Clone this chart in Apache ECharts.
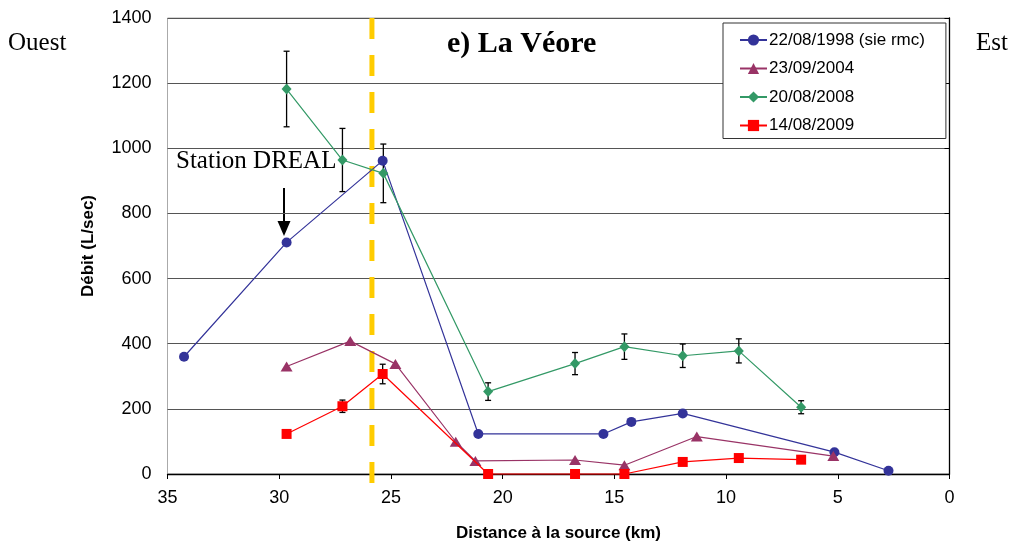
<!DOCTYPE html>
<html>
<head>
<meta charset="utf-8">
<script src="https://cdn.jsdelivr.net/npm/echarts@6/dist/echarts.min.js"></script>
<style>
  html, body { margin: 0; padding: 0; background: #fff; }
  #main { width: 1016px; height: 548px; }
</style>
</head>
<body>
<div id="main"></div>
<script>
// distance a la source (km) / debit (L/sec)
var names = ['22/08/1998 (sie rmc)', '23/09/2004', '20/08/2008', '14/08/2009'];

var x1998 = [34.26, 29.67, 25.37, 21.09, 15.49, 14.24, 11.94, 5.15, 2.73];
var y1998 = [360, 711, 962, 123, 123, 160, 186, 67, 10];

var x2004 = [29.67, 26.82, 24.8, 22.1, 21.22, 16.76, 14.55, 11.31, 5.2];
var y2004 = [330, 408, 338, 99, 40, 43, 27, 115, 55];

var x2008 = [29.67, 27.17, 25.34, 20.65, 16.76, 14.55, 11.94, 9.43, 6.64];
var y2008 = [1182, 964, 923, 253, 339, 391, 363, 378, 205];
var err2008 = [116, 97, 90, 27, 34, 39, 36, 37, 20];

var x2009 = [29.67, 27.17, 25.37, 20.65, 16.76, 14.55, 11.94, 9.43, 6.64];
var y2009 = [123, 208, 307, 0, 0, 0, 37, 49, 44];
var err2009 = [0, 19, 30, 0, 0, 0, 0, 0, 0];

var stationX = 25.85; // limite en pointilles jaunes
var xTicks = [0, 5, 10, 15, 20, 25, 30, 35];
var yTicks = [0, 200, 400, 600, 800, 1000, 1200, 1400];

function pairs(xs, ys) {
  var out = [];
  for (var i = 0; i < xs.length; i++) out.push([xs[i], ys[i]]);
  return out;
}

function triples(xs, ys, es) {
  var out = [];
  for (var i = 0; i < xs.length; i++) {
    if (es[i] > 0) out.push([xs[i], ys[i], es[i]]);
  }
  return out;
}

function renderErrorBar(params, api) {
  var x = api.value(0), y = api.value(1), e = api.value(2);
  var top = api.coord([x, y + e]);
  var bot = api.coord([x, y - e]);
  var st = { stroke: '#000', lineWidth: 1.3 };
  return {
    type: 'group',
    children: [
      { type: 'line', shape: { x1: top[0], y1: top[1], x2: bot[0], y2: bot[1] }, style: st },
      { type: 'line', shape: { x1: top[0] - 3, y1: top[1], x2: top[0] + 3, y2: top[1] }, style: st },
      { type: 'line', shape: { x1: bot[0] - 3, y1: bot[1], x2: bot[0] + 3, y2: bot[1] }, style: st }
    ]
  };
}

function renderLimit(params, api) {
  var x = api.value(0);
  var p0 = api.coord([x, yTicks[yTicks.length - 1]]);
  var p1 = api.coord([x, yTicks[0]]);
  return {
    type: 'line',
    shape: { x1: p0[0], y1: p0[1], x2: p1[0], y2: p1[1] + 13 },
    style: { stroke: '#FFCC00', lineWidth: 5, lineDash: [21, 16] }
  };
}

var sans = '"Liberation Sans", Arial, sans-serif';
var serif = '"Liberation Serif", "Times New Roman", serif';

var chart = echarts.init(document.getElementById('main'), null, { renderer: 'canvas' });

var option = {
  animation: false,
  backgroundColor: '#fff',
  title: {
    text: 'e) La Véore',
    left: 447,
    top: 29,
    padding: 0,
    textStyle: { fontFamily: serif, fontSize: 30, fontWeight: 'bold', color: '#000' }
  },
  grid: {
    left: 167.5,
    right: 66.5,
    top: 18,
    bottom: 74,
    show: true,
    borderColor: '#aaa',
    borderWidth: 1
  },
  legend: {
    data: names,
    orient: 'vertical',
    left: 723,
    top: 23,
    padding: [8, 21, 4, 16],
    itemGap: 10.5,
    itemWidth: 27,
    itemHeight: 14,
    backgroundColor: '#fff',
    borderColor: '#333',
    borderWidth: 1,
    borderRadius: 0,
    textStyle: { fontFamily: sans, fontSize: 17, color: '#000', lineHeight: 18, padding: [0, 0, 0, -3] }
  },
  xAxis: {
    type: 'value',
    min: 0,
    max: 35,
    interval: 5,
    inverse: true,
    name: 'Distance à la source (km)',
    nameLocation: 'middle',
    nameGap: 51,
    nameTextStyle: { fontFamily: sans, fontSize: 17, fontWeight: 'bold', color: '#000' },
    axisLine: { lineStyle: { color: '#000', width: 1.3 } },
    axisTick: { show: true, length: 5, lineStyle: { color: '#000' } },
    axisLabel: { fontFamily: sans, fontSize: 18, color: '#000', margin: 15 },
    splitLine: { show: false }
  },
  yAxis: {
    type: 'value',
    min: 0,
    max: 1400,
    interval: 200,
    name: 'Débit (L/sec)',
    nameLocation: 'middle',
    nameGap: 71,
    nameTextStyle: { fontFamily: sans, fontSize: 17, fontWeight: 'bold', color: '#000' },
    axisLine: { show: true, lineStyle: { color: '#000', width: 1.3 } },
    axisTick: { show: true, length: 5, lineStyle: { color: '#000' } },
    axisLabel: {
      fontFamily: sans, fontSize: 18, color: '#000', margin: 16,
      formatter: function (v) { return String(v); }
    },
    splitLine: { show: true, lineStyle: { color: '#555', width: 1.2 } }
  },
  series: [
    {
      name: 'limite',
      type: 'custom',
      renderItem: renderLimit,
      data: [[stationX, 0]],
      silent: true,
      z: 1
    },
    {
      name: 'err2008',
      type: 'custom',
      renderItem: renderErrorBar,
      data: triples(x2008, y2008, err2008),
      silent: true,
      z: 3
    },
    {
      name: 'err2009',
      type: 'custom',
      renderItem: renderErrorBar,
      data: triples(x2009, y2009, err2009),
      silent: true,
      z: 3
    },
    {
      name: names[0],
      type: 'line',
      data: pairs(x1998, y1998),
      symbol: 'circle',
      symbolSize: 10,
      color: '#333399',
      lineStyle: { width: 1.2 },
      z: 4
    },
    {
      name: names[1],
      type: 'line',
      data: pairs(x2004, y2004),
      symbol: 'triangle',
      symbolSize: [12, 10],
      color: '#993366',
      lineStyle: { width: 1.2 },
      z: 4
    },
    {
      name: names[2],
      type: 'line',
      data: pairs(x2008, y2008),
      symbol: 'diamond',
      symbolSize: [10, 11],
      color: '#339966',
      lineStyle: { width: 1.2 },
      z: 4
    },
    {
      name: names[3],
      type: 'line',
      data: pairs(x2009, y2009),
      symbol: 'rect',
      symbolSize: 10,
      color: '#FF0000',
      lineStyle: { width: 1.2 },
      clip: false,
      z: 5
    }
  ],
  graphic: [
    { type: 'text', left: 8, top: 31, style: { text: 'Ouest', font: '25px ' + serif, fill: '#000' } },
    { type: 'text', left: 976, top: 31, style: { text: 'Est', font: '25px ' + serif, fill: '#000' } },
    { type: 'text', left: 176, top: 149, style: { text: 'Station DREAL', font: '25px ' + serif, fill: '#000' } },
    { type: 'line', shape: { x1: 284, y1: 188, x2: 284, y2: 222 }, style: { stroke: '#000', lineWidth: 2 } },
    { type: 'polygon', shape: { points: [[277.5, 221], [290.5, 221], [284, 236]] }, style: { fill: '#000' } }
  ]
};

chart.setOption(option);
</script>
</body>
</html>
